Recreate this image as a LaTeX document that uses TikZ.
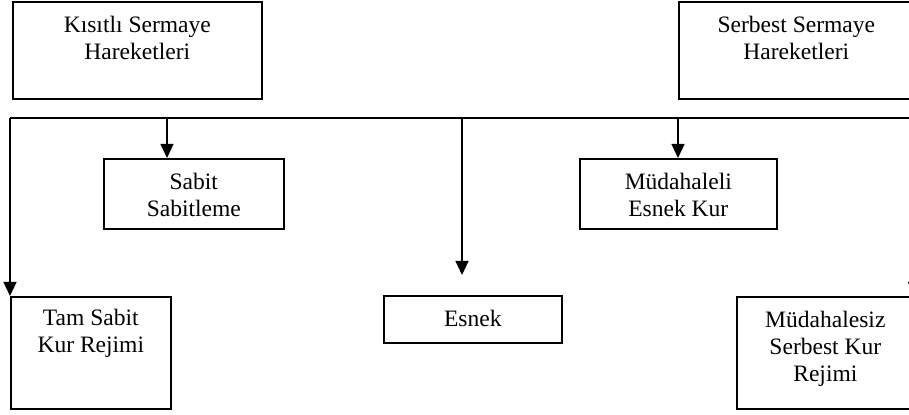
\documentclass[tikz,border=0pt]{standalone}
\usepackage{fontspec}
\setmainfont{Liberation Serif}
\usetikzlibrary{arrows.meta,calc}
\newdimen\pxu \pxu=0.51pt
% box text: width, height, first baseline, lines
\newcommand{\celltext}[4]{\parbox[c][#2\pxu][t]{#1\pxu}{\centering\rule{0pt}{#3\pxu}#4}}

\begin{document}
\begin{tikzpicture}[x=0.51pt, y=-0.51pt,
  cell/.style={draw, line width=0.85pt, inner sep=0pt, anchor=north west, font=\fontsize{12pt}{13.8pt}\selectfont},
  bus/.style={line width=0.85pt},
  edge/.style={-{Triangle[width=6.6pt,length=7.2pt]}, line width=0.85pt}
]
  \clip (0,0) rectangle (909,414);

  \node[cell] (kisitli) at (12,1) {\celltext{249}{97}{31}{Kısıtlı Sermaye\\Hareketleri}};
  \node[cell] (serbest) at (678,1) {\celltext{235}{97}{31}{Serbest Sermaye\\Hareketleri}};

  \node[cell] (sabit) at (103,158) {\celltext{180}{70}{31}{Sabit\\Sabitleme}};
  \node[cell] (mudahaleli) at (579,158) {\celltext{197}{70}{31}{Müdahaleli\\Esnek Kur}};

  \node[cell] (tam) at (10,296) {\celltext{160}{112}{29}{Tam Sabit\\Kur Rejimi}};
  \node[cell] (esnek) at (383,295) {\celltext{178}{47}{31}{Esnek}};
  \node[cell] (mudahalesiz) at (736,296) {\celltext{177}{112}{31}{Müdahalesiz\\Serbest Kur\\Rejimi}};

  % bus line and its taps
  \coordinate (busL) at (10,118);
  \coordinate (busR) at (913,118);
  \coordinate (tapSabit) at (167,118);
  \coordinate (tapEsnek) at (462,118);
  \coordinate (tapMud) at (678,118);
  \draw[bus] (busL) -- (busR);

  \draw[edge] (busL) -- (tam.north west);
  \draw[edge] (tapSabit) -- (tapSabit |- sabit.north);
  \draw[edge] (tapEsnek) -- ($(tapEsnek |- esnek.north)+(0,-20)$);
  \draw[edge] (tapMud) -- (tapMud |- mudahaleli.north);
  \draw[edge] (busR) -- (mudahalesiz.north east);
\end{tikzpicture}
\end{document}
